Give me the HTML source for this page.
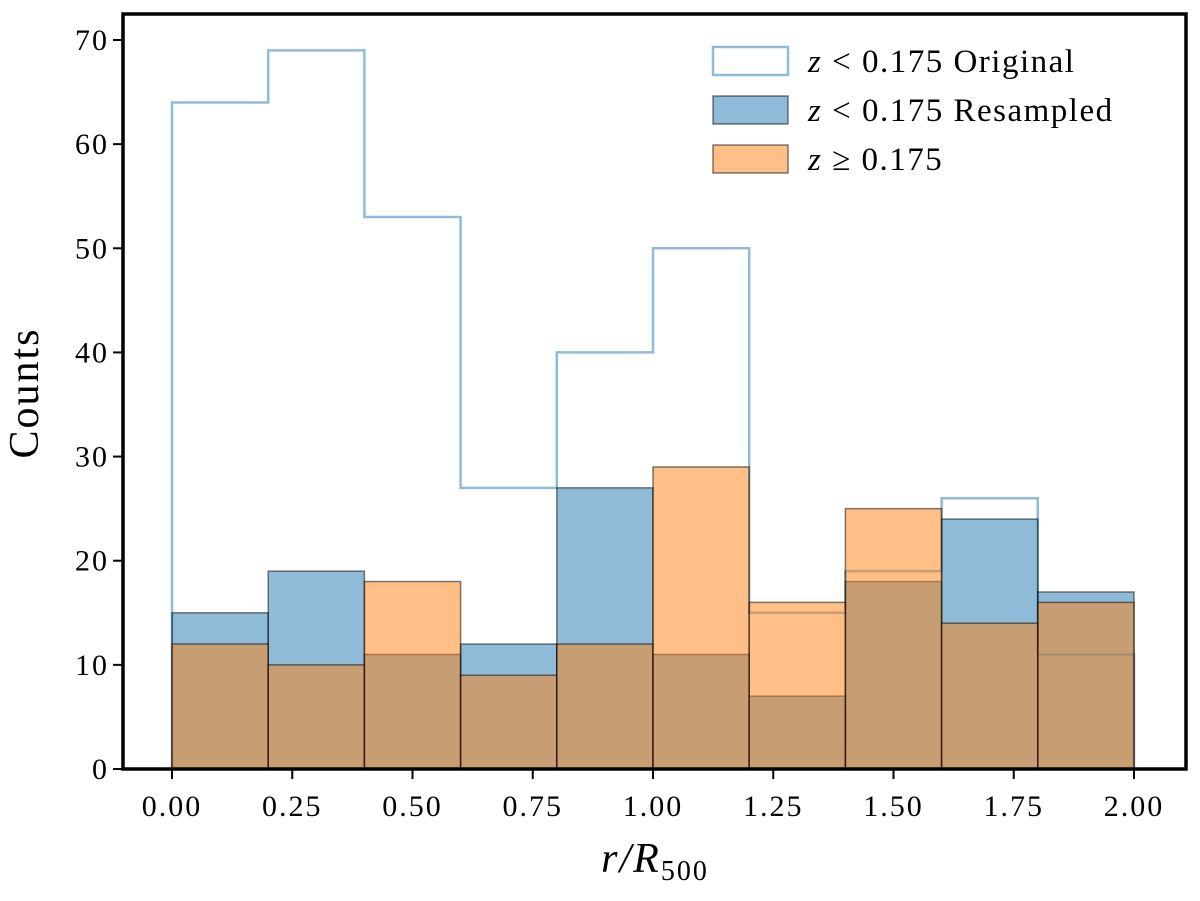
<!DOCTYPE html>
<html><head><meta charset="utf-8"><style>
body{margin:0;background:#fff}
text{font-family:"Liberation Serif",serif;fill:#000}
</style></head><body>
<svg id="chart" width="1200" height="896" xmlns="http://www.w3.org/2000/svg">
<g id="plot"></g>
</svg>
<script>
const binEdges=[0,0.2,0.4,0.6,0.8,1.0,1.2,1.4,1.6,1.8,2.0];
const originalCounts=[64,69,53,27,40,50,15,19,26,11];
const resampledCounts=[15,19,11,12,27,11,7,18,24,17];
const highZCounts=[12,10,18,9,12,29,16,25,14,16];
const xTicks=[0,0.25,0.5,0.75,1.0,1.25,1.5,1.75,2.0];
const xTickLabels=["0.00","0.25","0.50","0.75","1.00","1.25","1.50","1.75","2.00"];
const yTicks=[0,10,20,30,40,50,60,70];

const L=123,R=1186,T=14,B=769;
const X=v=>172+v*(1134-172)/2;
const Y=v=>769-v*(769-40)/70;
const NS="http://www.w3.org/2000/svg";
const g=document.getElementById('plot');
function el(tag,attrs,parent){const e=document.createElementNS(NS,tag);for(const k in attrs)e.setAttribute(k,attrs[k]);(parent||g).appendChild(e);return e;}

let d=`M${X(binEdges[0])},${Y(0)}`;
originalCounts.forEach((c,i)=>{d+=` L${X(binEdges[i])},${Y(c)} L${X(binEdges[i+1])},${Y(c)}`;});
d+=` L${X(binEdges[binEdges.length-1])},${Y(0)}`;
const orig=el('path',{d:d,fill:'none',stroke:'#1f77b4','stroke-opacity':0.5,'stroke-width':2.5});



function bars(arr,color,name){
  arr.forEach((c,i)=>{
    const r=el('rect',{x:X(binEdges[i]),y:Y(c),width:X(binEdges[i+1])-X(binEdges[i]),height:Y(0)-Y(c),fill:color,'fill-opacity':0.5,stroke:'#000','stroke-opacity':0.5,'stroke-width':1.5});
    
    
  });
}
bars(resampledCounts,'#1f77b4','resampled');
bars(highZCounts,'#ff7f0e','high-z');

const fr=el('rect',{x:L,y:T,width:R-L,height:B-T,fill:'none',stroke:'#000','stroke-width':3.5});



xTicks.forEach((v,i)=>{
  el('line',{x1:X(v),x2:X(v),y1:B,y2:B+10,stroke:'#000','stroke-width':2});
  const t=el('text',{x:X(v),y:B+47,'text-anchor':'middle','font-size':30,'letter-spacing':2});
  t.textContent=xTickLabels[i];
  
  
});
yTicks.forEach(v=>{
  el('line',{x1:L-10,x2:L,y1:Y(v),y2:Y(v),stroke:'#000','stroke-width':2});
  const t=el('text',{x:L-14,y:Y(v)+10,'text-anchor':'end','font-size':30,'letter-spacing':2});
  t.textContent=v;
  
  
});

const yl=el('text',{x:0,y:0,transform:'translate(38,393) rotate(-90)','text-anchor':'middle','font-size':42,'letter-spacing':2});
yl.textContent='Counts';



const xl=el('text',{x:655,y:872,'text-anchor':'middle','font-size':42,'font-style':'italic','letter-spacing':2});
xl.innerHTML='r/R<tspan font-style="normal" font-size="28" dy="8">500</tspan>';



const lg=el('g',{});


const entries=[
 {label:'<tspan font-style="italic">z</tspan> &lt; 0.175 Original',fill:'none',stroke:'#1f77b4',so:0.5,sw:2.5},
 {label:'<tspan font-style="italic">z</tspan> &lt; 0.175 Resampled',fill:'#1f77b4',stroke:'#000',so:0.5,sw:1.5},
 {label:'<tspan font-style="italic">z</tspan> ≥ 0.175',fill:'#ff7f0e',stroke:'#000',so:0.5,sw:1.5}
];
entries.forEach((e,i)=>{
  const y=61+i*49;
  const r=el('rect',{x:713,y:y-14,width:75,height:28,fill:e.fill,'fill-opacity':0.5,stroke:e.stroke,'stroke-opacity':e.so,'stroke-width':e.sw},lg);
  
  
  const t=el('text',{x:808,y:y+11,'font-size':33,'letter-spacing':1.5},lg);
  t.innerHTML=e.label;
  
  
});
</script>
</body></html>
